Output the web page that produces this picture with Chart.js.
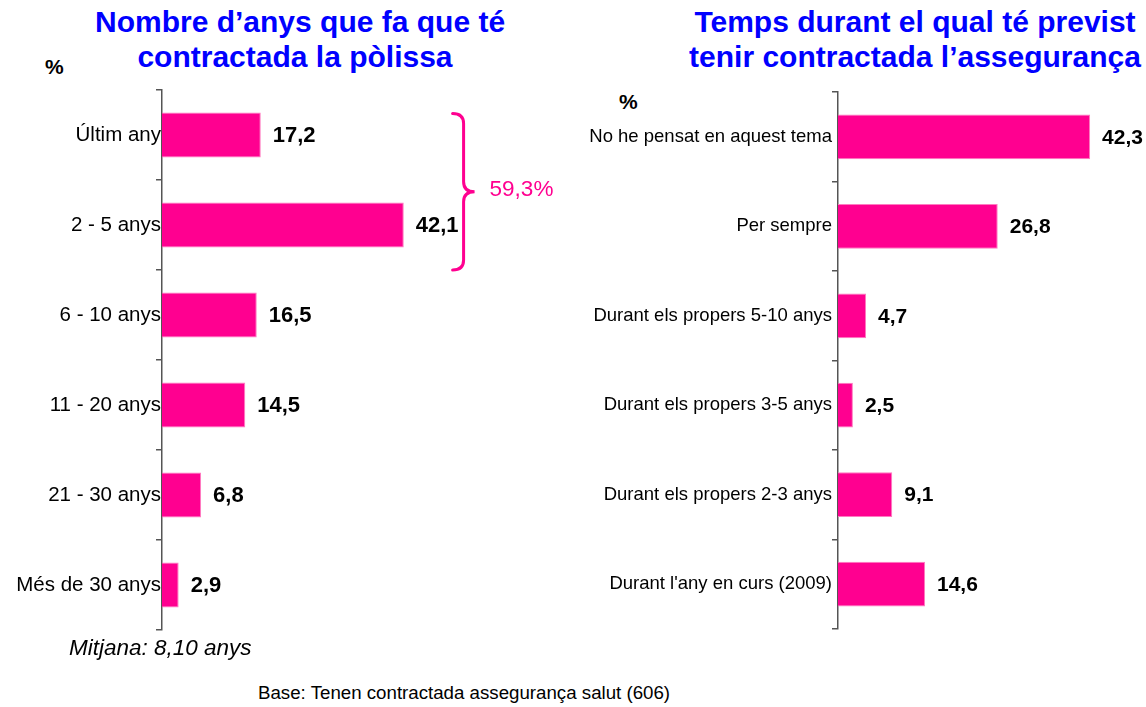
<!DOCTYPE html>
<html>
<head>
<meta charset="utf-8">
<script src="https://cdn.jsdelivr.net/npm/chart.js@4/dist/chart.umd.min.js"></script>
<style>
  body { margin: 0; background: #fff; font-family: 'Liberation Sans', Arial, sans-serif; }
  .page { position: relative; width: 1146px; height: 707px; overflow: hidden; }
  .title { position: absolute; color: #0000ff; font-weight: bold; font-size: 30px; line-height: 35px; text-align: center; white-space: nowrap; }
  .pct { position: absolute; font-weight: bold; font-size: 21px; color: #000; }
  .box { position: absolute; }
  .note { position: absolute; white-space: nowrap; color: #000; }
</style>
</head>
<body>
<div class="page">
  <div class="title" style="left:95px; width:400px; top:4px;">Nombre d’anys que fa que té<br>contractada la pòlissa</div>
  <div class="title" style="left:665px; width:500px; top:4px;">Temps durant el qual té previst<br>tenir contractada l’assegurança</div>
  <div class="pct" style="left:45px; top:55px;">%</div>
  <div class="pct" style="left:619px; top:90px;">%</div>

  <div class="box" style="left:0; top:80px; width:580px; height:560px;"><canvas id="chartLeft"></canvas></div>
  <div class="box" style="left:580px; top:81px; width:566px; height:559px;"><canvas id="chartRight"></canvas></div>

  <div class="note" style="left:69px; top:635px; font-size:22.5px; font-style:italic;">Mitjana: 8,10 anys</div>
  <div class="note" style="left:258px; top:682px; font-size:18.7px;">Base: Tenen contractada assegurança salut (606)</div>
</div>

<script>
// ---- dades ----
const leftLabels = ['Últim any', '2 - 5 anys', '6 - 10 anys', '11 - 20 anys', '21 - 30 anys', 'Més de 30 anys'];
const leftValues = [17.2, 42.1, 16.5, 14.5, 6.8, 2.9];
const leftGroupText = '59,3%';

const rightLabels = ['No he pensat en aquest tema', 'Per sempre', 'Durant els propers 5-10 anys',
  'Durant els propers 3-5 anys', 'Durant els propers 2-3 anys', "Durant l'any en curs (2009)"];
const rightValues = [42.3, 26.8, 4.7, 2.5, 9.1, 14.6];

const PINK = '#ff0090';
const FONT = "'Liberation Sans', Arial, sans-serif";

// etiquetes de valor al final de cada barra
const valueLabels = {
  id: 'valueLabels',
  afterDatasetsDraw(chart) {
    const ctx = chart.ctx;
    const meta = chart.getDatasetMeta(0);
    const size = chart.canvas.id === 'chartLeft' ? 22 : 21;
    ctx.save();
    ctx.font = 'bold ' + size + 'px ' + FONT;
    ctx.fillStyle = '#000';
    ctx.textAlign = 'left';
    ctx.textBaseline = 'middle';
    meta.data.forEach((bar, i) => {
      const v = chart.data.datasets[0].data[i];
      ctx.fillText(v.toFixed(1).replace('.', ','), bar.x + 12, bar.y + 1);
    });
    ctx.restore();
  }
};

// clau que agrupa les dues primeres categories
const groupBrace = {
  id: 'groupBrace',
  afterDraw(chart) {
    if (chart.canvas.id !== 'chartLeft') return;
    const y = chart.scales.y;
    const x = chart.scales.x;
    const bar0 = chart.getDatasetMeta(0).data[0];
    const top = bar0.y - bar0.height / 2 + 1;
    const bottom = (y.getPixelForValue(1) + y.getPixelForValue(2)) / 2;
    const mid = (top + bottom) / 2;
    const x0 = x.getPixelForValue(50.6);
    const xv = x0 + 11;
    const xp = x0 + 22;
    const r = 10;
    const ctx = chart.ctx;
    ctx.save();
    ctx.strokeStyle = PINK;
    ctx.lineWidth = 3;
    ctx.lineCap = 'round';
    ctx.beginPath();
    ctx.moveTo(x0, top);
    ctx.quadraticCurveTo(xv, top, xv, top + r);
    ctx.lineTo(xv, mid - r);
    ctx.quadraticCurveTo(xv, mid, xp, mid);
    ctx.quadraticCurveTo(xv, mid, xv, mid + r);
    ctx.lineTo(xv, bottom - r);
    ctx.quadraticCurveTo(xv, bottom, x0, bottom);
    ctx.stroke();
    ctx.font = '22.5px ' + FONT;
    ctx.fillStyle = PINK;
    ctx.textAlign = 'left';
    ctx.textBaseline = 'middle';
    ctx.fillText(leftGroupText, xp + 15, mid - 2);
    ctx.restore();
  }
};

function makeChart(id, labels, values, maxX, axisWidth, labelSize, labelPad, padRight) {
  const ctx = document.getElementById(id).getContext('2d');
  return new Chart(ctx, {
    type: 'bar',
    data: {
      labels: labels,
      datasets: [{
        data: values,
        backgroundColor: PINK,
        borderColor: '#ff7ac0',
        borderWidth: 1,
        barPercentage: 0.5,
        categoryPercentage: 1
      }]
    },
    options: {
      indexAxis: 'y',
      responsive: true,
      maintainAspectRatio: false,
      animation: false,
      layout: { padding: { top: 10, bottom: 10, left: 0, right: padRight } },
      plugins: { legend: { display: false }, tooltip: { enabled: false } },
      scales: {
        x: { display: false, min: 0, max: maxX },
        y: {
          afterFit(scale) { scale.width = axisWidth; },
          border: { display: true, color: '#555', width: 1.5 },
          grid: { drawOnChartArea: false, drawTicks: true, tickLength: 6, color: '#555', lineWidth: 1.5, offset: true },
          ticks: {
            autoSkip: false,
            color: '#000',
            padding: labelPad,
            font: { family: FONT, size: labelSize }
          }
        }
      }
    },
    plugins: [valueLabels, groupBrace]
  });
}

makeChart('chartLeft', leftLabels, leftValues, 70, 162, 20.5, -5, 16);
makeChart('chartRight', rightLabels, rightValues, 50, 258, 18.5, 0, 10);
</script>
</body>
</html>
